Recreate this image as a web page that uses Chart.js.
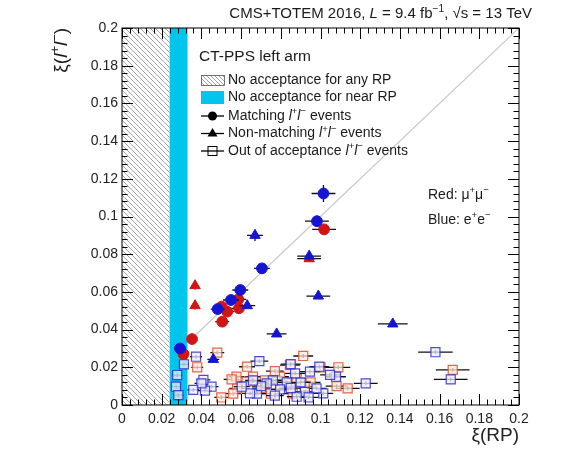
<!DOCTYPE html>
<html>
<head>
<meta charset="utf-8">
<script src="https://cdn.jsdelivr.net/npm/chart.js@4.4.1/dist/chart.umd.min.js"></script>
<style>
  html, body { margin: 0; padding: 0; background: #fff; }
  #wrap { width: 565px; height: 461px; }
</style>
</head>
<body>
<div id="wrap"><canvas id="xiPlot" width="565" height="461"></canvas></div>
<script>
// acceptance limits of the RPs, in xi
var noAcceptAny = [0, 0.024];
var noAcceptNear = [0.024, 0.033];
var diagonal = [0.033, 0.2];

// [xi(RP), xi(ll), err xi(RP), err xi(ll)]
var matchEE = [
  [0.1015, 0.1122, 0.0060, 0.0045],
  [0.0982, 0.0975, 0.0060, 0.0030],
  [0.0705, 0.0725, 0.0040, 0.0015],
  [0.0596, 0.0610, 0.0040, 0.0015],
  [0.0549, 0.0557, 0.0040, 0.0010],
  [0.0482, 0.0509, 0.0035, 0.0010],
  [0.0292, 0.0300, 0.0030, 0.0010]
];
var matchMM = [
  [0.1018, 0.0932, 0.0060, 0.0015],
  [0.0586, 0.0560, 0.0040, 0.0010],
  [0.0502, 0.0522, 0.0035, 0.0010],
  [0.0530, 0.0495, 0.0035, 0.0010],
  [0.0589, 0.0513, 0.0040, 0.0010],
  [0.0505, 0.0442, 0.0035, 0.0010],
  [0.0353, 0.0350, 0.0025, 0.0010],
  [0.0310, 0.0270, 0.0025, 0.0010]
];
var nonMatchEE = [
  [0.0670, 0.0900, 0.0040, 0.0030],
  [0.0943, 0.0790, 0.0060, 0.0020],
  [0.0631, 0.0527, 0.0040, 0.0010],
  [0.0989, 0.0578, 0.0060, 0.0010],
  [0.0779, 0.0377, 0.0050, 0.0010],
  [0.1364, 0.0430, 0.0075, 0.0010],
  [0.0460, 0.0242, 0.0030, 0.0010]
];
var nonMatchMM = [
  [0.0943, 0.0776, 0.0060, 0.0010],
  [0.0368, 0.0633, 0.0020, 0.0020],
  [0.0368, 0.0527, 0.0020, 0.0020]
];
var outEE = [
  [0.1579, 0.0280, 0.0087, 0.0010], [0.1656, 0.0136, 0.0085, 0.0010],
  [0.1228, 0.0115, 0.0060, 0.0010], [0.1078, 0.0150, 0.0050, 0.0010],
  [0.1048, 0.0160, 0.0050, 0.0010], [0.1014, 0.0062, 0.0050, 0.0010],
  [0.0994, 0.0203, 0.0050, 0.0010], [0.0980, 0.0088, 0.0050, 0.0010],
  [0.0947, 0.0177, 0.0050, 0.0010], [0.0922, 0.0070, 0.0050, 0.0010],
  [0.0900, 0.0120, 0.0050, 0.0010], [0.0880, 0.0044, 0.0050, 0.0010],
  [0.0872, 0.0168, 0.0050, 0.0010], [0.0850, 0.0217, 0.0050, 0.0010],
  [0.0830, 0.0120, 0.0045, 0.0010], [0.0796, 0.0083, 0.0045, 0.0010],
  [0.0760, 0.0130, 0.0045, 0.0010], [0.0729, 0.0115, 0.0045, 0.0010],
  [0.0692, 0.0233, 0.0045, 0.0010], [0.0680, 0.0060, 0.0045, 0.0010],
  [0.0645, 0.0062, 0.0040, 0.0010], [0.0603, 0.0097, 0.0040, 0.0010],
  [0.0451, 0.0097, 0.0035, 0.0010], [0.0418, 0.0076, 0.0035, 0.0010],
  [0.0410, 0.0133, 0.0035, 0.0010], [0.0400, 0.0115, 0.0035, 0.0010],
  [0.0373, 0.0256, 0.0030, 0.0010], [0.0359, 0.0080, 0.0030, 0.0010],
  [0.0312, 0.0216, 0.0025, 0.0010], [0.0278, 0.0159, 0.0025, 0.0010],
  [0.0272, 0.0097, 0.0025, 0.0010], [0.0284, 0.0052, 0.0025, 0.0010],
  [0.0700, 0.0100, 0.0045, 0.0010], [0.0770, 0.0050, 0.0045, 0.0010],
  [0.0850, 0.0090, 0.0050, 0.0010], [0.0940, 0.0040, 0.0050, 0.0010],
  [0.0660, 0.0130, 0.0040, 0.0010]
];
var outMM = [
  [0.1666, 0.0186, 0.0085, 0.0010], [0.1137, 0.0088, 0.0060, 0.0010],
  [0.1090, 0.0200, 0.0060, 0.0010], [0.1081, 0.0100, 0.0055, 0.0010],
  [0.1000, 0.0200, 0.0050, 0.0010], [0.0950, 0.0120, 0.0050, 0.0010],
  [0.0913, 0.0260, 0.0050, 0.0010], [0.0880, 0.0140, 0.0050, 0.0010],
  [0.0846, 0.0212, 0.0050, 0.0010], [0.0820, 0.0100, 0.0045, 0.0010],
  [0.0796, 0.0150, 0.0045, 0.0010], [0.0770, 0.0180, 0.0045, 0.0010],
  [0.0750, 0.0060, 0.0045, 0.0010], [0.0700, 0.0090, 0.0045, 0.0010],
  [0.0660, 0.0150, 0.0040, 0.0010], [0.0630, 0.0203, 0.0040, 0.0010],
  [0.0628, 0.0124, 0.0040, 0.0010], [0.0580, 0.0088, 0.0040, 0.0010],
  [0.0577, 0.0150, 0.0040, 0.0010], [0.0552, 0.0136, 0.0040, 0.0010],
  [0.0500, 0.0040, 0.0035, 0.0010], [0.0480, 0.0278, 0.0035, 0.0010],
  [0.0379, 0.0200, 0.0030, 0.0010], [0.0720, 0.0130, 0.0045, 0.0010],
  [0.0860, 0.0060, 0.0050, 0.0010], [0.0920, 0.0100, 0.0050, 0.0010],
  [0.0800, 0.0110, 0.0045, 0.0010], [0.0560, 0.0060, 0.0040, 0.0010]
];

var FONT = '"Liberation Sans", Arial, Helvetica, sans-serif';
var BLUE = '#1414d2';
var RED = '#d21414';
var CYAN = '#00c6ee';
Chart.defaults.font.family = FONT;

function toPoints(arr) {
  return arr.map(function(p) { return { x: p[0], y: p[1], ex: p[2], ey: p[3] }; });
}

function hatch(ctx, x0, y0, x1, y1, gap) {
  ctx.save();
  ctx.beginPath();
  ctx.rect(x0, y0, x1 - x0, y1 - y0);
  ctx.clip();
  ctx.strokeStyle = '#8c8c8c';
  ctx.lineWidth = 0.8;
  ctx.beginPath();
  var h = y1 - y0;
  for (var x = x0 - h; x < x1 + h; x += gap) {
    ctx.moveTo(x, y0);
    ctx.lineTo(x + h, y1);
  }
  ctx.stroke();
  ctx.restore();
}

// parts: [text, flag]  flag 'i' = italic, 's' = superscript
function richText(ctx, parts, x, y, size, align) {
  function font(f) {
    return (f === 'i' ? 'italic ' : '') + (f === 's' ? size * 0.68 : size) + 'px ' + FONT;
  }
  var w = 0;
  parts.forEach(function(p) { ctx.font = font(p[1]); w += ctx.measureText(p[0]).width; });
  var cx = align === 'right' ? x - w : x;
  ctx.textAlign = 'left';
  ctx.textBaseline = 'middle';
  parts.forEach(function(p) {
    ctx.font = font(p[1]);
    ctx.fillText(p[0], cx, p[1] === 's' ? y - size * 0.33 : y);
    cx += ctx.measureText(p[0]).width;
  });
  return w;
}

var rootStyle = {
  id: 'rootStyle',
  beforeDatasetsDraw: function(chart) {
    var ctx = chart.ctx, a = chart.chartArea, xs = chart.scales.x;
    hatch(ctx, xs.getPixelForValue(noAcceptAny[0]), a.top, xs.getPixelForValue(noAcceptAny[1]), a.bottom, 5);
    ctx.save();
    ctx.fillStyle = CYAN;
    var c0 = xs.getPixelForValue(noAcceptNear[0]), c1 = xs.getPixelForValue(noAcceptNear[1]);
    ctx.fillRect(c0, a.top, c1 - c0, a.bottom - a.top);
    ctx.restore();
  },
  beforeDatasetDraw: function(chart, args) {
    var ds = chart.data.datasets[args.index];
    if (!ds.errorBars) return;
    var xs = chart.scales.x, ys = chart.scales.y, ctx = chart.ctx;
    ctx.save();
    ctx.strokeStyle = '#111';
    ctx.lineWidth = 1.3;
    ctx.beginPath();
    ds.data.forEach(function(p) {
      var px = xs.getPixelForValue(p.x), py = ys.getPixelForValue(p.y);
      ctx.moveTo(xs.getPixelForValue(p.x - p.ex), py);
      ctx.lineTo(xs.getPixelForValue(p.x + p.ex), py);
      ctx.moveTo(px, ys.getPixelForValue(p.y - p.ey));
      ctx.lineTo(px, ys.getPixelForValue(p.y + p.ey));
    });
    ctx.stroke();
    ctx.restore();
  },
  afterDatasetsDraw: function(chart) {
    var ctx = chart.ctx, a = chart.chartArea, xs = chart.scales.x, ys = chart.scales.y;
    ctx.save();
    // frame and inward ticks on all four sides
    ctx.strokeStyle = '#000';
    ctx.lineWidth = 1;
    ctx.strokeRect(a.left, a.top, a.right - a.left, a.bottom - a.top);
    ctx.beginPath();
    for (var i = 0; i <= 50; i++) {
      var v = i * 0.004;
      var len = i % 5 === 0 ? 11 : 5.5;
      var px = Math.round(xs.getPixelForValue(v)) + 0.5;
      var py = Math.round(ys.getPixelForValue(v)) + 0.5;
      ctx.moveTo(px, a.bottom); ctx.lineTo(px, a.bottom - len);
      ctx.moveTo(px, a.top); ctx.lineTo(px, a.top + len);
      ctx.moveTo(a.left, py); ctx.lineTo(a.left + len, py);
      ctx.moveTo(a.right, py); ctx.lineTo(a.right - len, py);
    }
    ctx.stroke();

    ctx.fillStyle = '#1a1a1a';
    // header
    richText(ctx, [['CMS+TOTEM 2016, '], ['L', 'i'], [' = 9.4 fb'], ['\u22121', 's'], [', \u221As = 13 TeV']], 532, 14, 15, 'right');

    // y axis title, rotated
    ctx.save();
    ctx.translate(62, a.top);
    ctx.rotate(-Math.PI / 2);
    richText(ctx, [['\u03BE('], ['l', 'i'], ['+', 's'], ['l', 'i'], ['\u2212', 's'], [')']], 0, 0, 19, 'right');
    ctx.restore();

    // legend
    var lx = 201, lw = 23, tx = 228;
    richText(ctx, [['CT-PPS left arm']], 199, 57, 15.5);
    hatch(ctx, lx, 75, lx + lw, 86, 4);
    ctx.strokeStyle = '#555';
    ctx.lineWidth = 0.8;
    ctx.strokeRect(lx + 0.5, 75.5, lw, 10);
    richText(ctx, [['No acceptance for any RP']], tx, 80, 14);
    ctx.fillStyle = CYAN;
    ctx.fillRect(lx, 91, lw, 13);
    ctx.fillStyle = '#1a1a1a';
    richText(ctx, [['No acceptance for near RP']], tx, 97.5, 14);

    var rows = [116, 133.5, 151];
    ctx.strokeStyle = '#000';
    ctx.lineWidth = 1.3;
    rows.forEach(function(y) {
      ctx.beginPath(); ctx.moveTo(lx, y); ctx.lineTo(lx + lw, y); ctx.stroke();
    });
    var mx = lx + lw / 2;
    ctx.fillStyle = '#000';
    ctx.beginPath(); ctx.arc(mx, rows[0], 4.5, 0, Math.PI * 2); ctx.fill();
    ctx.beginPath();
    ctx.moveTo(mx, rows[1] - 5.5); ctx.lineTo(mx + 5, rows[1] + 3); ctx.lineTo(mx - 5, rows[1] + 3);
    ctx.closePath(); ctx.fill();
    ctx.lineWidth = 1;
    ctx.strokeRect(mx - 4.5, rows[2] - 4.5, 9, 9);
    ctx.fillStyle = '#1a1a1a';
    richText(ctx, [['Matching '], ['l', 'i'], ['+', 's'], ['l', 'i'], ['\u2212', 's'], [' events']], tx, rows[0], 14);
    richText(ctx, [['Non-matching '], ['l', 'i'], ['+', 's'], ['l', 'i'], ['\u2212', 's'], [' events']], tx, rows[1], 14);
    richText(ctx, [['Out of acceptance '], ['l', 'i'], ['+', 's'], ['l', 'i'], ['\u2212', 's'], [' events']], tx, rows[2], 14);

    // channel key
    richText(ctx, [['Red: \u03BC'], ['+', 's'], ['\u03BC'], ['\u2212', 's']], 428, 195, 14);
    richText(ctx, [['Blue: e'], ['+', 's'], ['e'], ['\u2212', 's']], 428, 220, 14);
    ctx.restore();
  }
};

function tickFmt(v) { return String(+v.toFixed(3)); }

// datasets listed topmost first (Chart.js draws index 0 last)
var chart = new Chart(document.getElementById('xiPlot').getContext('2d'), {
  type: 'scatter',
  data: {
    datasets: [
      { label: 'Non-matching ee', data: toPoints(nonMatchEE), errorBars: true, pointStyle: 'triangle',
        pointRadius: 6, backgroundColor: BLUE, borderColor: BLUE, borderWidth: 1 },
      { label: 'Non-matching mumu', data: toPoints(nonMatchMM), errorBars: true, pointStyle: 'triangle',
        pointRadius: 6, backgroundColor: RED, borderColor: RED, borderWidth: 1 },
      { label: 'Matching ee', data: toPoints(matchEE), errorBars: true, pointStyle: 'circle',
        pointRadius: 5.4, backgroundColor: BLUE, borderColor: BLUE, borderWidth: 1 },
      { label: 'Matching mumu', data: toPoints(matchMM), errorBars: true, pointStyle: 'circle',
        pointRadius: 5.4, backgroundColor: RED, borderColor: RED, borderWidth: 1 },
      { label: 'Out of acceptance ee', data: toPoints(outEE), errorBars: true, pointStyle: 'rect',
        pointRadius: 6.4, backgroundColor: 'rgba(238,236,255,0.75)', borderColor: 'rgba(45,45,205,0.85)', borderWidth: 1.2 },
      { label: 'Out of acceptance mumu', data: toPoints(outMM), errorBars: true, pointStyle: 'rect',
        pointRadius: 6.4, backgroundColor: 'rgba(255,232,220,0.75)', borderColor: 'rgba(222,75,45,0.85)', borderWidth: 1.2 },
      { label: 'diagonal', type: 'line', data: [{ x: diagonal[0], y: diagonal[0] }, { x: diagonal[1], y: diagonal[1] }],
        borderColor: '#c8c8c8', borderWidth: 1.2, pointRadius: 0, fill: false }
    ]
  },
  options: {
    responsive: false,
    animation: false,
    events: [],
    layout: { padding: { top: 28, right: 46, left: 0, bottom: 0 } },
    plugins: { legend: { display: false }, tooltip: { enabled: false } },
    scales: {
      x: {
        type: 'linear', min: 0, max: 0.2,
        grid: { display: false, drawTicks: false },
        border: { display: false },
        ticks: { stepSize: 0.02, padding: 6, color: '#222', font: { size: 14 }, maxRotation: 0, autoSkip: false, callback: tickFmt },
        title: { display: true, text: '\u03BE(RP)', align: 'end', color: '#222', font: { size: 19 }, padding: { top: 0, bottom: 14 } },
        afterFit: function(s) { s.height = 56; }
      },
      y: {
        type: 'linear', min: 0, max: 0.2,
        grid: { display: false, drawTicks: false },
        border: { display: false },
        ticks: { stepSize: 0.02, padding: 4, color: '#222', font: { size: 14 }, autoSkip: false, callback: tickFmt },
        afterFit: function(s) { s.width = 122; }
      }
    }
  },
  plugins: [rootStyle]
});
</script>
</body>
</html>
